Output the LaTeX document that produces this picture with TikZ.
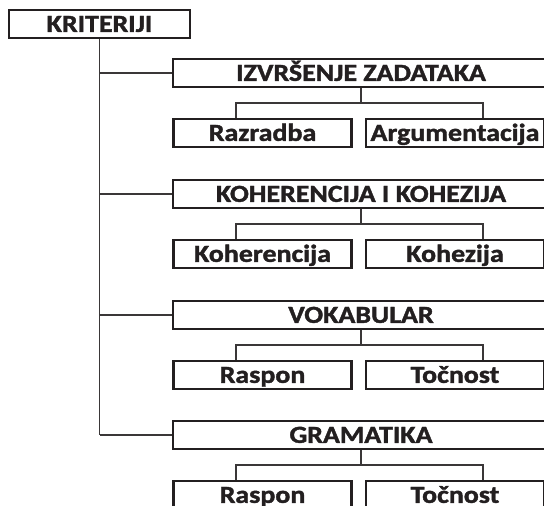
\documentclass[tikz,border=0pt]{standalone}
\usepackage{fontspec}
\setmainfont{Carlito}[FakeStretch=1.14, BoldFeatures={FakeBold=1.6}]
\usetikzlibrary{calc}
\definecolor{ink}{HTML}{231F20}
\definecolor{wire}{HTML}{3A3738}
\begin{document}
\begin{tikzpicture}[x=1pt,y=-1pt,
  box/.style={draw=ink, line width=2.4pt, fill=white, text=ink,
    font=\bfseries\fontsize{24.5}{26}\selectfont, inner sep=0pt,
    text height=15.7pt, text depth=0pt, minimum height=27.6pt, anchor=center},
  pbox/.style={box, minimum width=375.6pt},
  cbox/.style={box, minimum width=178pt},
  link/.style={draw=wire, line width=1.1pt}]
\useasboundingbox (0,0) rectangle (544,506);
\clip (0,0) rectangle (544,506);
\fill[white] (0,0) rectangle (544,506);

\node[box, minimum width=180.6pt] (kri) at (99.5,24) {KRITERIJI};

\node[pbox] (p1) at (361,73)  {IZVRŠENJE ZADATAKA};
\node[pbox] (p2) at (361,194) {KOHERENCIJA I KOHEZIJA};
\node[pbox] (p3) at (361,315) {VOKABULAR};
\node[pbox] (p4) at (361,435) {GRAMATIKA};

\node[cbox] (c1a) at (262.5,133) {Razradba};
\node[cbox] (c1b) at (455,133)   {Argumentacija};
\node[cbox] (c2a) at (262.5,254) {Koherencija};
\node[cbox] (c2b) at (455,254)   {Kohezija};
\node[cbox] (c3a) at (262.5,375) {Raspon};
\node[cbox] (c3b) at (455,375)   {Točnost};
\node[cbox] (c4a) at (262.5,495) {Raspon};
\node[cbox] (c4b) at (455,495)   {Točnost};

% trunk and branches
\draw[link] (kri.south) -- (kri.south |- p4.west);
\foreach \i in {1,2,3,4}{
  \draw[link] (kri.south |- p\i.west) -- (p\i.west);
  \path (c\i a.north) ++(-26.5,0) coordinate (a\i);
  \path (c\i b.north) ++(28,0) coordinate (b\i);
  \path (p\i.south) ++(0,15) coordinate (m\i);
  \draw[link] (p\i.south) -- (m\i);
  \draw[link] (a\i) |- (m\i) -| (b\i);
}
\end{tikzpicture}
\end{document}
